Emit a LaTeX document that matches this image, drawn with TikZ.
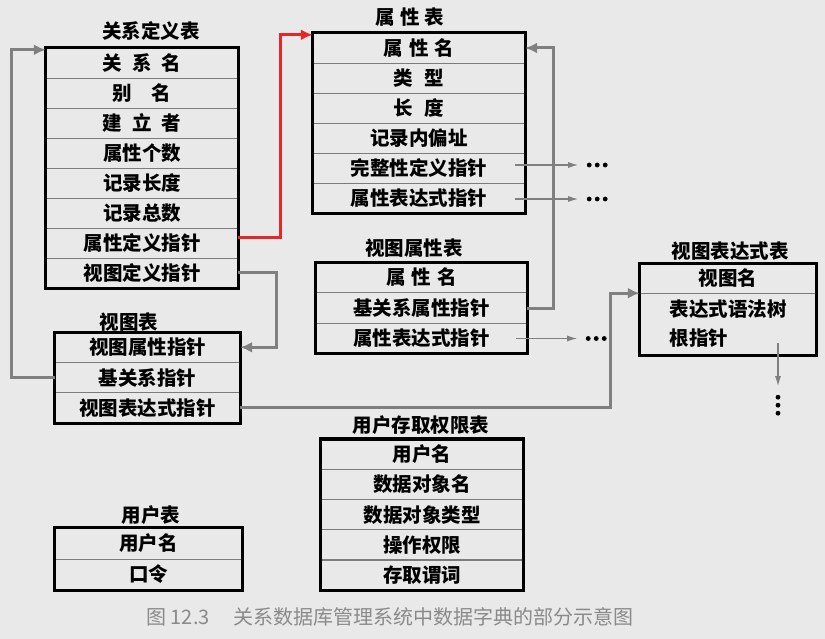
\documentclass[tikz,border=0pt]{standalone}
\usepackage{fontspec}
\usepackage{tikz}
\usetikzlibrary{arrows.meta}
\newfontfamily\cjk{Noto Sans CJK SC}
\definecolor{pageBg}{HTML}{E9E9E9}
\definecolor{linkGray}{HTML}{808080}
\definecolor{linkRed}{HTML}{E8262A}
\definecolor{rowGray}{HTML}{7C7C7C}
\definecolor{capGray}{HTML}{8A8A8A}
\newcommand\tabfont{\cjk\bfseries\fontsize{19.5}{29}\selectfont}

\begin{document}
\begin{tikzpicture}[x=1pt,y=-1pt,
  cell/.style={minimum width=#1,minimum height=30pt,inner sep=0pt,font=\tabfont},
  tabtitle/.style={font=\tabfont},
  boxframe/.style={line width=3.2pt},
  rowline/.style={line width=1.2pt,rowGray},
  link/.style={line width=3pt,linkGray,-{Latex[length=12pt,width=11pt]}},
  redlink/.style={link,linkRed},
  thinlink/.style={line width=1.2pt,linkGray,-{Latex[length=10pt,width=6pt]}}]
\fill[pageBg] (0,0) rectangle (825,639);
\useasboundingbox (0,0) rectangle (825,639);

% 关系定义表
\node[tabtitle] (tRel) at (151,31) {关系定义表};
\foreach \t [count=\i] in {关\hspace{10pt}系\hspace{10pt}名,别\hspace{20pt}名,建\hspace{10pt}立\hspace{10pt}者,属性个数,记录长度,记录总数,属性定义指针,视图定义指针}
  \node[cell=192pt] (rel\i) at (142,{33+30*\i}) {\t};
\foreach \i in {1,...,7} \draw[rowline] (rel\i.south west) -- (rel\i.south east);
\draw[boxframe] (rel1.north west) rectangle (rel8.south east);

% 属性表
\node[tabtitle] (tAttr) at (410,17) {属\hspace{5pt}性\hspace{5pt}表};
\foreach \t [count=\i] in {属\hspace{6pt}性\hspace{6pt}名,类\hspace{12pt}型,长\hspace{12pt}度,记录内偏址,完整性定义指针,属性表达式指针}
  \node[cell=212pt] (attr\i) at (419,{18+30*\i}) {\t};
\foreach \i in {1,...,5} \draw[rowline] (attr\i.south west) -- (attr\i.south east);
\draw[boxframe] (attr1.north west) rectangle (attr6.south east);

% 视图属性表
\node[tabtitle] (tVattr) at (414,248) {视图属性表};
\foreach \t [count=\i] in {属\hspace{6pt}性\hspace{6pt}名,基关系属性指针,属性表达式指针}
  \node[cell=211pt] (vattr\i) at (421.5,{247+30.5*\i}) {\t};
\foreach \i in {1,2} \draw[rowline] (vattr\i.south west) -- (vattr\i.south east);
\draw[boxframe] (vattr1.north west) rectangle (vattr3.south east);

% 视图表
\node[tabtitle] (tView) at (129,322) {视图表};
\foreach \t [count=\i] in {视图属性指针,基关系指针,视图表达式指针}
  \node[cell=185pt] (view\i) at (147.5,{317+30.3*\i}) {\t};
\foreach \i in {1,2} \draw[rowline] (view\i.south west) -- (view\i.south east);
\draw[boxframe] (view1.north west) rectangle (view3.south east);

% 视图表达式表
\node[tabtitle] (tVex) at (730,251) {视图表达式表};
\node[cell=176pt,minimum height=29pt] (vex1) at (728,278.5) {视图名};
\node[cell=176pt,minimum height=62pt,align=left] (vex2) at (728,324) {表达式语法树\\根指针};
\draw[rowline] (vex1.south west) -- (vex1.south east);
\draw[boxframe] (vex1.north west) rectangle (vex2.south east);

% 用户存取权限表
\node[tabtitle] (tAcc) at (421,425) {用户存取权限表};
\foreach \t [count=\i] in {用户名,数据对象名,数据对象类型,操作权限,存取谓词}
  \node[cell=202pt] (acc\i) at (422,{424+30.2*\i}) {\t};
\foreach \i in {1,...,4} \draw[rowline] (acc\i.south west) -- (acc\i.south east);
\draw[boxframe] (acc1.north west) rectangle (acc5.south east);

% 用户表
\node[tabtitle] (tUser) at (151,515) {用户表};
\foreach \t [count=\i] in {用户名,口令}
  \node[cell=187pt,minimum height=31pt] (user\i) at (148.5,{512.5+31*\i}) {\t};
\draw[rowline] (user1.south west) -- (user1.south east);
\draw[boxframe] (user1.north west) rectangle (user2.south east);

% pointers
\draw[redlink] ([yshift=5pt]rel7.east) -- ++(42,0) |- ([yshift=-2pt]attr1.north west);
\draw[link] (vattr2.east) -- ++(26,0) |- (attr1.east);
\draw[link] (rel8.east) -- ++(38,0) |- (view1.east);
\draw[link] (view2.west) -- ++(-43,0) |- ([yshift=-2pt]rel1.north west);
\draw[link] (view3.east) -- ++(370,0) |- (vex1.south west);

% pointers to further tables
\coordinate (more1) at ([xshift=53pt,yshift=3pt]attr5.east);
\coordinate (more2) at ([xshift=53pt,yshift=-1pt]attr6.east);
\coordinate (more3) at ([xshift=50pt]vattr3.east);
\coordinate (more4) at ([xshift=50pt,yshift=-31pt]vex2.south);
\draw[thinlink] ([xshift=-10pt,yshift=3pt]attr5.east) -- (more1);
\draw[thinlink] ([xshift=-10pt,yshift=-1pt]attr6.east) -- (more2);
\draw[thinlink] ([xshift=-11pt]vattr3.east) -- (more3);
\draw[thinlink] ([xshift=50pt,yshift=12pt]vex2.south) -- (more4);
\foreach \m in {more1,more2,more3}
  \foreach \d in {11,19,27} \fill (\m) ++(\d,0) circle (2.4pt);
\foreach \d in {11,19,27} \fill (more4) ++(0,\d) circle (2.4pt);

% caption
\node[font=\cjk\fontsize{20}{20}\selectfont,text=capGray] (cap) at (390,617)
  {图 12.3\hspace{24pt}关系数据库管理系统中数据字典的部分示意图};
\end{tikzpicture}
\end{document}
